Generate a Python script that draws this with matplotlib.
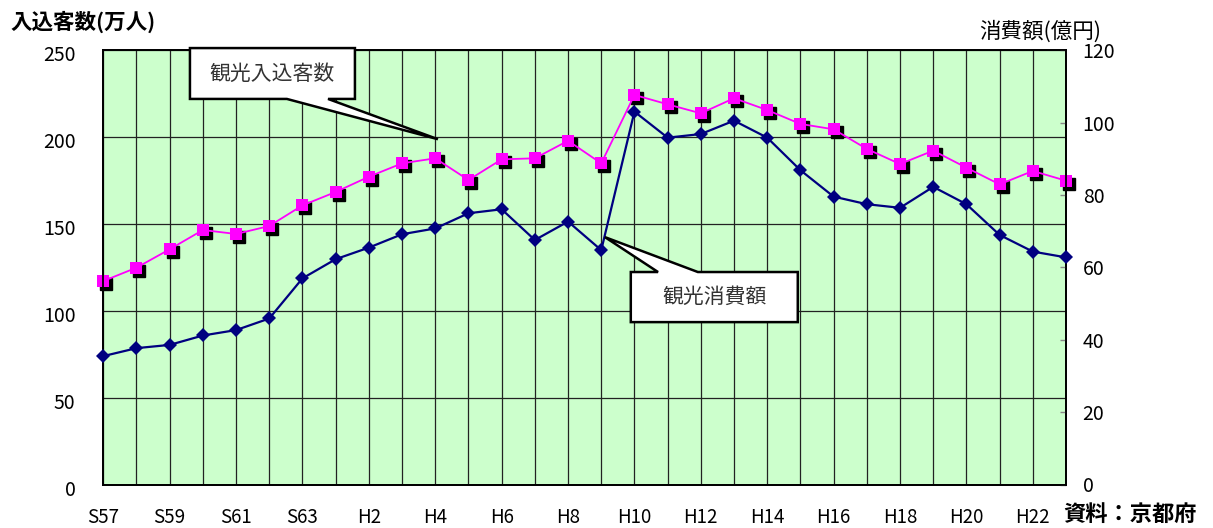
import matplotlib
matplotlib.use("Agg")
import matplotlib.pyplot as plt
from matplotlib.patches import Polygon
from matplotlib.transforms import offset_copy, ScaledTranslation

plt.rcParams["font.family"] = ["Noto Sans CJK JP", "DejaVu Sans"]

# 年次（昭和57年〜平成23年）
years = ["S57", "S58", "S59", "S60", "S61", "S62", "S63",
         "H1", "H2", "H3", "H4", "H5", "H6", "H7", "H8", "H9", "H10",
         "H11", "H12", "H13", "H14", "H15", "H16", "H17", "H18", "H19",
         "H20", "H21", "H22", "H23"]

# 観光入込客数（万人）
visitors = [117.2, 124.9, 135.5, 146.6, 144.3, 148.9, 160.8, 168.5, 177.3, 185.0,
            187.9, 175.4, 187.3, 187.9, 198.0, 185.0, 224.4, 219.0, 213.8, 222.5,
            215.7, 207.7, 204.6, 193.3, 184.6, 192.3, 182.5, 172.9, 180.6, 175.0]

# 観光消費額（億円）
spending = [35.5, 37.7, 38.6, 41.2, 42.7, 45.9, 57.0, 62.3, 65.5, 69.2,
            70.8, 75.0, 76.1, 67.6, 72.7, 64.8, 103.1, 95.9, 96.9, 100.6,
            95.9, 86.9, 79.6, 77.5, 76.5, 82.3, 77.5, 69.0, 64.4, 62.8]

left_ticks = [0, 50, 100, 150, 200, 250]
right_ticks = [0, 20, 40, 60, 80, 100, 120]

W, H = 1213, 528
fig = plt.figure(figsize=(W / 100, H / 100), dpi=100)
ax = fig.add_axes([103.3 / W, 1 - 484.5 / H, (1066 - 103.3) / W, (484.5 - 50.5) / H])
ax2 = ax.twinx()

x = list(range(len(years)))

ax.set_facecolor("#CCFFCC")
ax.set_xlim(0, len(years) - 1)
ax.set_ylim(0, 250)
ax2.set_ylim(0, 120)

# grid
ax.set_xticks(x)
ax.set_yticks(left_ticks)
ax.grid(True, color="#222222", linewidth=0.9)
ax.set_axisbelow(True)
ax.set_xticklabels([y if i % 2 == 0 else "" for i, y in enumerate(years)])
ax.tick_params(axis="x", length=0, pad=16.5, labelsize=13.5)
ax.tick_params(axis="y", length=0, pad=20, labelsize=14)
for lab in ax.get_yticklabels():
    lab.set_transform(lab.get_transform() + ScaledTranslation(0, -3 / 100, fig.dpi_scale_trans))

ax2.set_yticks(right_ticks)
ax2.tick_params(axis="y", direction="in", length=4.5, width=1, color="#888888",
                pad=12, labelsize=14)

for a in (ax, ax2):
    for s in a.spines.values():
        s.set_color("black")
        s.set_linewidth(1.3)

# 観光入込客数: magenta squares with a black drop shadow
shadow = offset_copy(ax.transData, fig=fig, x=3, y=-3, units="dots")
ax.plot(x, visitors, ls="none", marker="s", ms=8, color="black",
        transform=shadow, zorder=3, clip_on=False)
ax.plot(x, visitors, color="#FF00FF", lw=1.3, marker="s", ms=8,
        markeredgewidth=0, zorder=4, clip_on=False)

# 観光消費額: navy diamonds on the secondary axis
ax2.plot(x, spending, color="#000080", lw=1.6, marker="D", ms=7.5,
         markeredgewidth=0, zorder=4, clip_on=False)


def callout(axis, box, base, tip, text):
    x0, x1, y0, y1 = box
    b0, b1, by = base
    if by == y0:  # pointer leaves from the bottom edge
        pts = [(x0, y1), (x1, y1), (x1, y0), (b1, y0), tip, (b0, y0), (x0, y0)]
    else:  # pointer leaves from the top edge
        pts = [(x0, y1), (b0, y1), tip, (b1, y1), (x1, y1), (x1, y0), (x0, y0)]
    poly = Polygon(pts, closed=True, facecolor="white", edgecolor="black",
                   linewidth=1.8, joinstyle="miter", transform=axis.transData,
                   zorder=10, clip_on=False)
    ax2.add_patch(poly)
    ax2.text((x0 + x1) / 2, (y0 + y1) / 2, text, transform=axis.transData,
             ha="center", va="center", fontsize=15, color="#333333", zorder=11)


callout(ax, (2.61, 7.58, 222.1, 251.4), (5.53, 6.77, 222.1),
        (10.08, visitors[10] + 11), "観光入込客数")
callout(ax2, (15.89, 20.92, 44.9, 58.75), (16.71, 17.91, 58.75),
        (15.11, spending[15] + 3.6), "観光消費額")

# axis titles and source
fig.text(10 / W, 1 - 22 / H, "入込客数(万人)", ha="left", va="center",
         fontsize=15.5, fontweight="bold")
fig.text(979 / W, 1 - 32 / H, "消費額(億円)", ha="left", va="center",
         fontsize=15.5)
fig.text(1063 / W, 1 - 514 / H, "資料：京都府", ha="left", va="center",
         fontsize=16, fontweight="bold")

fig.savefig("out.png", dpi=100)
